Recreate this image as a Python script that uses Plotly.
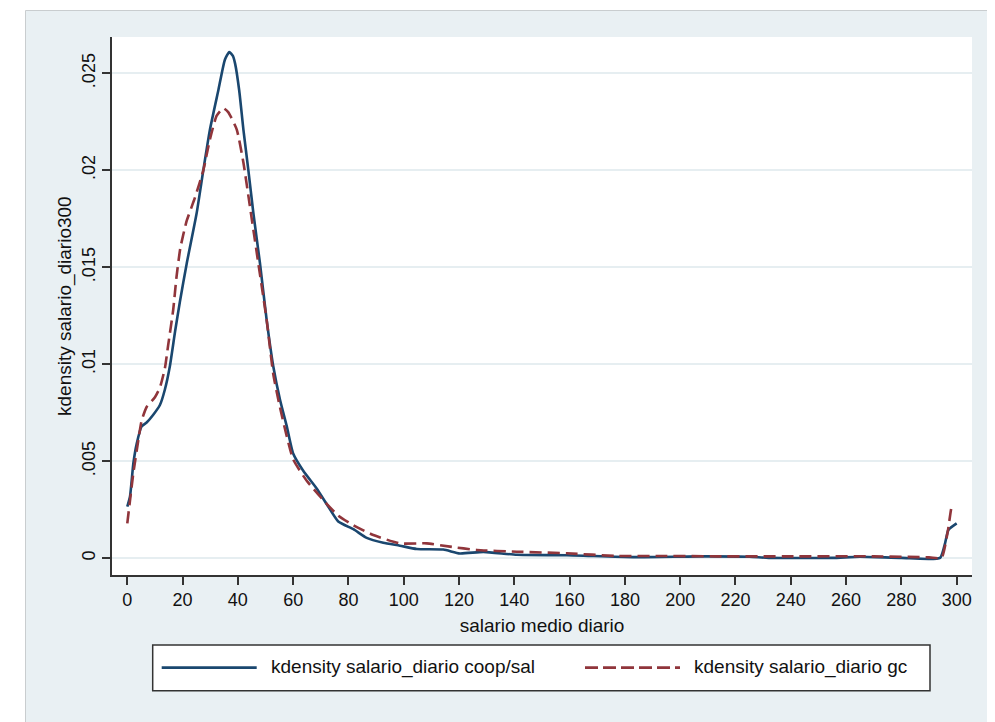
import plotly.graph_objects as go

# ---- data ----
coop_x = [0, 1, 2.2, 3.4, 5.2, 7, 9.4, 11.8, 13.6, 15.4, 17.3, 19, 21.5, 25.1, 27.5, 29.9,
          32.9, 35.3, 36.9, 38.2, 39.0, 40.5, 42.0, 43.8, 45.6, 48.0, 50.4, 52.8, 55.2,
          57.7, 60.0, 63.7, 68.5, 72.1, 76.3, 81.8, 86.6, 92.6, 98.6, 104.7, 114.3, 120.3,
          128.8, 140.9, 159, 183, 207, 225, 232, 255, 265, 280, 294, 295.8, 297, 300]
coop_y = [0.00266, 0.0032, 0.0049, 0.0059, 0.0068, 0.0070, 0.0074, 0.0079, 0.0087, 0.0099,
          0.0117, 0.0132, 0.0152, 0.0178, 0.0200, 0.0221, 0.0241, 0.0257, 0.0261, 0.0259,
          0.0255, 0.0241, 0.0221, 0.0200, 0.0178, 0.0152, 0.0123, 0.0099, 0.0082, 0.0068,
          0.0054, 0.0045, 0.0036, 0.0028, 0.0019, 0.00150, 0.00105, 0.00080, 0.00065,
          0.00048, 0.00045, 0.00025, 0.00033, 0.00018, 0.00016, 0.00006, 0.00010, 0.00008,
          0.00002, 0.00002, 0.00008, 0.00002, 0.00002, 0.00077, 0.00146, 0.0018]

gc_x = [0, 1, 2.2, 4, 5.2, 7, 10, 11.8, 13.6, 14.8, 16.6, 17.8, 19.2, 21.5, 24.5, 27.5, 29.9,
        32.3, 34.7, 36.5, 39.6, 42.0, 44.4, 47.4, 50.4, 52.8, 55.2, 60, 64.9, 70.9, 76.3,
        81.8, 89, 98.6, 108.3, 116.7, 126.4, 140.9, 159, 177, 195, 213, 240, 270, 290,
        294.5, 296.8, 298.2, 298.8]
gc_y = [0.0018, 0.0030, 0.0044, 0.0061, 0.0071, 0.0078, 0.0083, 0.0088, 0.0098, 0.0110,
        0.0128, 0.0145, 0.0160, 0.0174, 0.0186, 0.0200, 0.0216, 0.0228, 0.0232, 0.0230,
        0.0221, 0.0204, 0.0181, 0.0152, 0.0123, 0.0095, 0.0078, 0.0051, 0.0040, 0.0030,
        0.0022, 0.0017, 0.0012, 0.00077, 0.00077, 0.0006, 0.00043, 0.00034, 0.00026,
        0.00012, 0.00012, 0.0001, 0.0001, 0.0001, 0.00005, 0.00002, 0.0014, 0.00266, 0.00275]

x_ticks = list(range(0, 301, 20))
y_ticks = [0, 0.005, 0.01, 0.015, 0.02, 0.025]
y_tick_text = ["0", ".005", ".01", ".015", ".02", ".025"]

series_names = ["kdensity salario_diario coop/sal", "kdensity salario_diario gc"]
x_title = "salario medio diario"
y_title = "kdensity salario_diario300"

# ---- style ----
OFF = 8                      # default page body margin
W, H = 995 - OFF, 722 - OFF
L, T = 112 - OFF, 37 - OFF
R = W - (972 - OFF)
B = H - (575 - OFF)
PW, PH = W - L - R, H - T - B
FONT = "Liberation Sans, Arial, Helvetica, sans-serif"
PANEL = "#e9f0f3"
NAVY = "#1a476f"
MAROON = "#90353b"
AXIS = "#333333"
TXT = "#111111"


def px(xp):
    """reference-window pixel x -> paper x"""
    return (xp - OFF - L) / PW


def py(yp):
    """reference-window pixel y -> paper y"""
    return (H - B - (yp - OFF)) / PH


fig = go.Figure()
fig.add_trace(go.Scatter(x=coop_x, y=coop_y, mode="lines", name=series_names[0],
                         line=dict(color=NAVY, width=2.6, shape="spline", smoothing=0.5),
                         showlegend=False))
fig.add_trace(go.Scatter(x=gc_x, y=gc_y, mode="lines", name=series_names[1],
                         line=dict(color=MAROON, width=2.6, dash="12px,6px",
                                   shape="spline", smoothing=0.5),
                         showlegend=False))

shapes = [
    # white outer strips (top and left)
    dict(type="rect", xref="paper", yref="paper", x0=px(0), x1=px(1000), y0=py(10.5), y1=py(0),
         fillcolor="white", line=dict(width=0), layer="below"),
    dict(type="rect", xref="paper", yref="paper", x0=px(0), x1=px(25.5), y0=py(730), y1=py(0),
         fillcolor="white", line=dict(width=0), layer="below"),
    dict(type="line", xref="paper", yref="paper", x0=px(25.5), x1=px(1000), y0=py(10.5), y1=py(10.5),
         line=dict(color="#c9cdcf", width=1)),
    dict(type="line", xref="paper", yref="paper", x0=px(25.5), x1=px(25.5), y0=py(10.5), y1=py(730),
         line=dict(color="#c9cdcf", width=1)),
    # legend box
    dict(type="rect", xref="paper", yref="paper", x0=px(152.7), x1=px(930), y0=py(690.7), y1=py(645),
         fillcolor="white", line=dict(color=AXIS, width=1.5)),
    dict(type="line", xref="paper", yref="paper", x0=px(161.7), x1=px(256.7), y0=py(667.7), y1=py(667.7),
         line=dict(color=NAVY, width=2.8)),
    dict(type="line", xref="paper", yref="paper", x0=px(585), x1=px(680), y0=py(667.7), y1=py(667.7),
         line=dict(color=MAROON, width=2.8, dash="13px,5px")),
]

annotations = [
    dict(xref="paper", yref="paper", x=px(269), y=py(667), text=series_names[0], showarrow=False,
         xanchor="left", yanchor="middle", font=dict(family=FONT, size=19, color=TXT)),
    dict(xref="paper", yref="paper", x=px(692), y=py(667), text=series_names[1], showarrow=False,
         xanchor="left", yanchor="middle", font=dict(family=FONT, size=19, color=TXT)),
    dict(xref="paper", yref="paper", x=px(65), y=py(306), text=y_title, showarrow=False,
         textangle=-90, xanchor="center", yanchor="middle",
         font=dict(family=FONT, size=19, color=TXT)),
]

fig.update_layout(
    width=W, height=H,
    margin=dict(l=L, r=R, t=T, b=B, pad=0),
    paper_bgcolor=PANEL, plot_bgcolor="white",
    font=dict(family=FONT, size=19, color=TXT),
    shapes=shapes, annotations=annotations,
    xaxis=dict(range=[-5.53, 305.55], tickvals=x_ticks, showgrid=False, zeroline=False,
               showline=True, linecolor=AXIS, linewidth=1.5, ticks="outside", ticklen=8,
               tickwidth=1.5, tickcolor=AXIS, tickfont=dict(size=18),
               title=dict(text=x_title, font=dict(size=19), standoff=9)),
    yaxis=dict(range=[-0.000861, 0.026871], tickvals=y_ticks, ticktext=y_tick_text,
               tickangle=-90, showgrid=True, gridcolor="#e6eef1", gridwidth=2, zeroline=False,
               showline=True, linecolor=AXIS, linewidth=1.5, ticks="outside", ticklen=8,
               tickwidth=1.5, tickcolor=AXIS, tickfont=dict(size=18)),
)

fig.write_html("out.html")
